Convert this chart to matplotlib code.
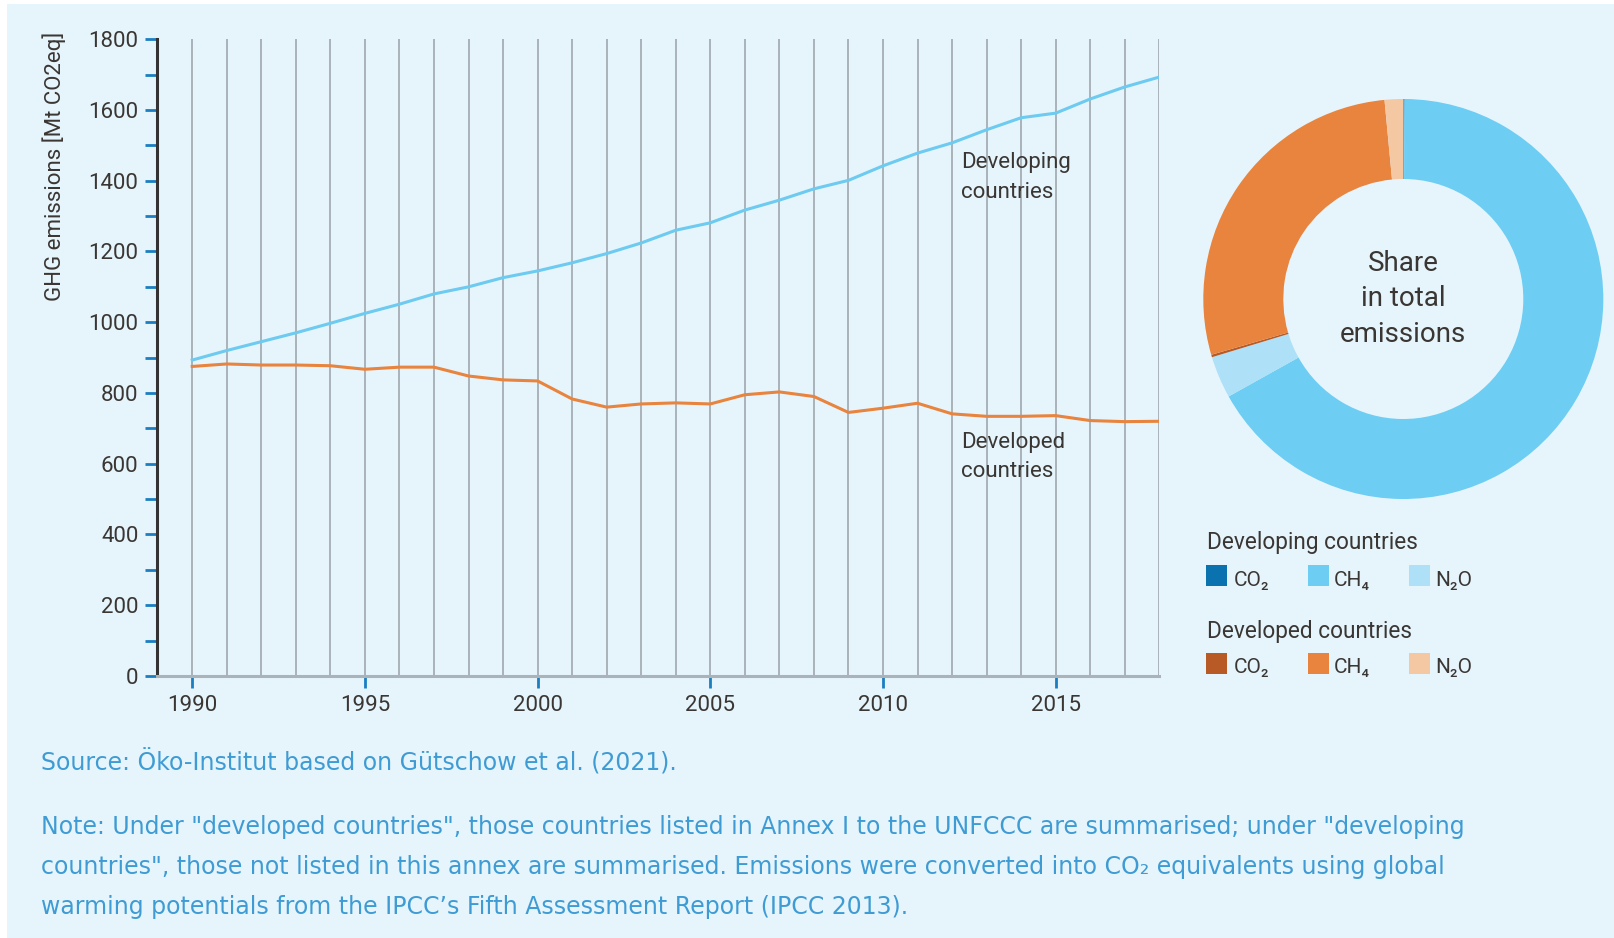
import matplotlib
matplotlib.use("Agg")
import matplotlib.pyplot as plt
from matplotlib.patches import Rectangle
from matplotlib.ticker import MultipleLocator

# --- Data ---
years = list(range(1990, 2019))
developing = [893, 920, 945, 970, 997, 1025, 1051, 1080, 1100, 1126, 1145, 1168,
              1194, 1224, 1260, 1281, 1317, 1345, 1377, 1401, 1442, 1478, 1507,
              1544, 1578, 1591, 1631, 1665, 1693]
developed = [875, 882, 879, 879, 877, 867, 873, 873, 848, 837, 834, 783, 760,
             769, 772, 769, 795, 803, 790, 745, 757, 771, 741, 734, 734, 736,
             722, 719, 720]
xtick_years = [1990, 1995, 2000, 2005, 2010, 2015]

# share in total emissions (%), clockwise from the top
share_labels = ["Developing CO₂", "Developing CH₄", "Developing N₂O",
                "Developed CO₂", "Developed CH₄", "Developed N₂O"]
share_values = [0.1, 66.8, 3.4, 0.2, 28.0, 1.5]
share_colors = ["#0b72b0", "#6dcdf3", "#aee0f7", "#b85a25", "#e8843e", "#f5c8a4"]

gas_labels = ["CO₂", "CH₄", "N₂O"]
group_labels = ["Developing countries", "Developed countries"]

# --- Style ---
W, H = 1615, 938
BG = "#e6f5fc"
TEXT = "#3a3633"
BLUE_TICK = "#1b7ec2"
GRID = "#aab3b9"
plt.rcParams["font.family"] = ["Roboto", "DejaVu Sans"]

fig = plt.figure(figsize=(W / 100, H / 100), dpi=100, facecolor="white")
fig.add_artist(Rectangle((7 / W, 0), 1, 1 - 4 / H, transform=fig.transFigure,
                         facecolor=BG, edgecolor="none", zorder=0))

# ================================================================
# Line chart
# ================================================================
y0, y1800 = 676.0, 39.2
ax = fig.add_axes([157 / W, (H - y0) / H, (1159.3 - 157) / W, (y0 - y1800) / H])
ax.set_facecolor("none")
ax.set_xlim(1988.98, 2018)
ax.set_ylim(0, 1800)

ax.vlines(years, 0, 1800, color=GRID, linewidth=1.4, zorder=1)
ax.plot(years, developing, color="#6dcaf0", linewidth=2.2, zorder=3)
ax.plot(years, developed, color="#e8843e", linewidth=2.2, zorder=3)

for side in ["top", "right"]:
    ax.spines[side].set_visible(False)
ax.spines["left"].set_color("#333333")
ax.spines["left"].set_linewidth(2.2)
ax.spines["bottom"].set_color(GRID)
ax.spines["bottom"].set_linewidth(2.2)

ax.set_xticks(xtick_years)
ax.set_xticklabels([str(y) for y in xtick_years])
ax.yaxis.set_major_locator(MultipleLocator(200))
ax.yaxis.set_minor_locator(MultipleLocator(100))
ax.tick_params(axis="both", which="both", direction="out", color=BLUE_TICK,
               length=8.4, width=2, labelcolor=TEXT, labelsize=16)
ax.tick_params(axis="y", pad=5)
ax.tick_params(axis="x", pad=5)

fig.text(54 / W, 1 - 166 / H, "GHG emissions [Mt CO2eq]", rotation=90,
         ha="center", va="center", fontsize=16, color=TEXT)

ax.text(2012.25, 1481, "Developing\ncountries", ha="left", va="top",
        fontsize=16, color=TEXT, linespacing=1.55, zorder=4)
ax.text(2012.25, 691, "Developed\ncountries", ha="left", va="top",
        fontsize=16, color=TEXT, linespacing=1.5, zorder=4)

# ================================================================
# Donut chart
# ================================================================
cx, cy, r = 1403.3, 299, 200
axp = fig.add_axes([(cx - r) / W, (H - cy - r) / H, 2 * r / W, 2 * r / H])
axp.pie(share_values, colors=share_colors, startangle=90, counterclock=False,
        radius=1, wedgeprops=dict(width=0.4, linewidth=0))
axp.set_xlim(-1, 1)
axp.set_ylim(-1, 1)
axp.set_aspect("equal")
axp.axis("off")
axp.text(0, 0, "Share\nin total\nemissions", ha="center", va="center",
         fontsize=20, color=TEXT, linespacing=1.42)

# ================================================================
# Legend (drawn in pixel coordinates)
# ================================================================
axk = fig.add_axes([0, 0, 1, 1])
axk.set_xlim(0, W)
axk.set_ylim(H, 0)
axk.axis("off")
axk.set_facecolor("none")

square_x = [1206, 1308, 1409]
label_x = [1234, 1334, 1435]
heading_base = [549, 638]
row_top = [565, 653]
row_base = [586, 673]
for g, group in enumerate(group_labels):
    axk.text(1207, heading_base[g], group, ha="left", va="baseline",
             fontsize=16.3, color=TEXT)
    for k, gas in enumerate(gas_labels):
        axk.add_patch(Rectangle((square_x[k], row_top[g]), 21.5, 21.5,
                                facecolor=share_colors[g * 3 + k], edgecolor="none"))
        axk.text(label_x[k], row_base[g], gas, ha="left", va="baseline",
                 fontsize=15, color=TEXT)

# ================================================================
# Footer
# ================================================================
FOOT = "#3f9bd3"
foot_font = ["DejaVu Sans"]
axk.text(41, 770, "Source: Öko-Institut based on Gütschow et al. (2021).",
         ha="left", va="baseline", fontsize=17, color=FOOT, family=foot_font)
note_lines = [
    "Note: Under \"developed countries\", those countries listed in Annex I to the UNFCCC are summarised; under \"developing",
    "countries\", those not listed in this annex are summarised. Emissions were converted into CO₂ equivalents using global",
    "warming potentials from the IPCC’s Fifth Assessment Report (IPCC 2013).",
]
for i, line in enumerate(note_lines):
    axk.text(41, 834 + 40 * i, line, ha="left", va="baseline", fontsize=17,
             color=FOOT, family=foot_font)

fig.savefig("out.png", dpi=100, facecolor="white")
